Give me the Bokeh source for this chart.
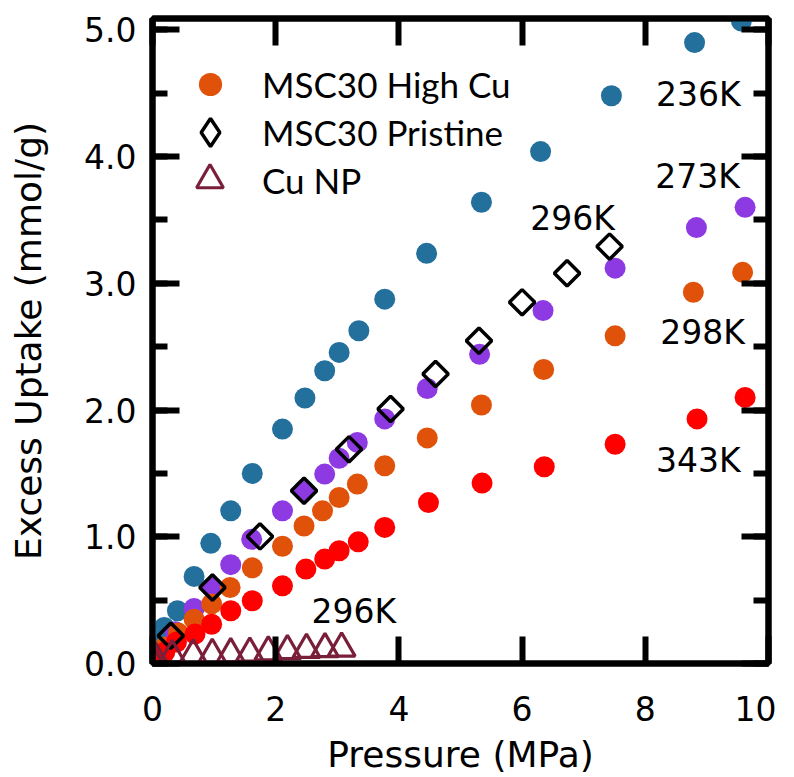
import numpy as np
from bokeh.plotting import figure
from bokeh.models import (Range1d, LinearAxis, SingleIntervalTicker, NumeralTickFormatter,
                          CustomJSTickFormatter, Legend, LegendItem, Label, ColumnDataSource)
from bokeh.embed import file_html
from bokeh.resources import INLINE

# ---------------- data ----------------
hicu_236_p = [0.01, 0.06, 0.19, 0.405, 0.675, 0.946, 1.27, 1.62, 2.11, 2.475, 2.795, 3.03, 3.35, 3.77, 4.45, 5.34, 6.30, 7.45, 8.80, 9.56]
hicu_236_u = [0.05, 0.15, 0.285, 0.416, 0.687, 0.948, 1.205, 1.50, 1.85, 2.095, 2.31, 2.455, 2.626, 2.875, 3.237, 3.64, 4.04, 4.48, 4.90, 5.07]

hicu_273_p = [0.03, 0.37, 0.675, 0.97, 1.27, 1.61, 2.11, 2.46, 2.795, 3.03, 3.325, 3.77, 4.46, 5.31, 6.34, 7.51, 8.83, 9.62]
hicu_273_u = [0.05, 0.25, 0.435, 0.60, 0.78, 0.98, 1.205, 1.363, 1.495, 1.62, 1.745, 1.93, 2.17, 2.44, 2.785, 3.12, 3.44, 3.60]

hicu_298_p = [0.03, 0.20, 0.42, 0.675, 0.96, 1.26, 1.62, 2.11, 2.46, 2.76, 3.03, 3.325, 3.77, 4.46, 5.34, 6.35, 7.51, 8.78, 9.58]
hicu_298_u = [0.03, 0.13, 0.24, 0.35, 0.47, 0.60, 0.755, 0.925, 1.085, 1.205, 1.31, 1.416, 1.56, 1.78, 2.04, 2.32, 2.586, 2.93, 3.087]

hicu_343_p = [0.02, 0.20, 0.39, 0.69, 0.96, 1.27, 1.62, 2.11, 2.49, 2.795, 3.03, 3.34, 3.77, 4.48, 5.35, 6.36, 7.51, 8.84, 9.62]
hicu_343_u = [0.00, 0.09, 0.17, 0.232, 0.31, 0.416, 0.495, 0.613, 0.745, 0.824, 0.89, 0.96, 1.074, 1.27, 1.424, 1.553, 1.73, 1.93, 2.10]

pristine_296_p = [0.297, 0.973, 1.745, 2.46, 3.19, 3.865, 4.595, 5.30, 6.00, 6.73, 7.42]
pristine_296_u = [0.219, 0.60, 1.003, 1.363, 1.69, 2.008, 2.284, 2.547, 2.85, 3.08, 3.29]

cunp_296_p = [0.01, 0.05, 0.32, 0.66, 0.97, 1.27, 1.58, 1.88, 2.19, 2.50, 2.80, 3.07]
cunp_296_u = [0.01, 0.04, 0.06, 0.065, 0.07, 0.075, 0.08, 0.09, 0.10, 0.11, 0.115, 0.12]

legend_labels = ["MSC30 High Cu", "MSC30 Pristine", "Cu NP"]
temp_labels = ["236K", "273K", "296K", "298K", "343K", "296K"]
temp_label_p = [8.86, 8.85, 6.82, 8.93, 8.86, 3.27]
temp_label_u = [4.494, 3.84, 3.51, 2.61, 1.60, 0.414]

x_label = "Pressure (MPa)"
y_label = "Excess Uptake (mmol/g)"

# ---------------- style ----------------
FONT = "DejaVu Sans"
LEG_FONT = "Lato"
C_236 = "#23709c"
C_273 = "#8e3ae3"
C_298 = "#e0520a"
C_343 = "#ff0000"
C_NP = "#7a1f3a"

p = figure(frame_width=616, frame_height=645,
           x_range=Range1d(0, 10), y_range=Range1d(0, 5.09),
           output_backend="svg", toolbar_location=None,
           min_border_left=152, min_border_top=18, min_border_right=8, min_border_bottom=112)
# an off-screen range used only to give the legend its diamond glyph
p.extra_x_ranges = {"legend_only": Range1d(start=-200, end=-190)}
p.grid.visible = False
p.outline_line_color = "black"
p.outline_line_width = 6
p.background_fill_color = "white"
p.border_fill_color = "white"

def style_axis(ax, show_labels):
    ax.axis_line_width = 6
    ax.axis_line_color = "black"
    ax.major_tick_in = 27
    ax.major_tick_out = 0
    ax.major_tick_line_width = 6
    ax.minor_tick_in = 15
    ax.minor_tick_out = 0
    ax.minor_tick_line_width = 6
    if show_labels:
        ax.major_label_text_font = FONT
        ax.major_label_text_font_size = "33px"
        ax.major_label_text_color = "black"
        ax.axis_label_text_font = FONT
        ax.axis_label_text_font_size = "36px"
        ax.axis_label_text_font_style = "normal"
        ax.axis_label_text_color = "black"
    else:
        # mirror axes: ticks only, no labels
        ax.formatter = CustomJSTickFormatter(code="return ''")
        ax.major_label_text_font_size = "1px"
        ax.axis_label = None
        ax.major_label_standoff = 0
        ax.axis_label_standoff = 0

xa = p.xaxis[0]
xa.ticker = SingleIntervalTicker(interval=2, num_minor_ticks=0)
xa.axis_label = x_label
style_axis(xa, True)
xa.major_label_standoff = 32
xa.axis_label_standoff = 10

ya = p.yaxis[0]
ya.ticker = SingleIntervalTicker(interval=1, num_minor_ticks=2)
ya.formatter = NumeralTickFormatter(format="0.0")
ya.axis_label = y_label
style_axis(ya, True)
ya.major_label_standoff = 16
ya.axis_label_standoff = 32

top = LinearAxis(ticker=SingleIntervalTicker(interval=2, num_minor_ticks=0))
style_axis(top, False)
p.add_layout(top, "above")

right = LinearAxis(ticker=SingleIntervalTicker(interval=1, num_minor_ticks=2))
style_axis(right, False)
p.add_layout(right, "right")

# ---------------- marks ----------------
p.scatter(hicu_236_p, hicu_236_u, marker="circle", size=21, fill_color=C_236, line_color=None)
p.scatter(hicu_273_p, hicu_273_u, marker="circle", size=21, fill_color=C_273, line_color=None)
r_298 = p.scatter(hicu_298_p, hicu_298_u, marker="circle", size=21, fill_color=C_298, line_color=None)
p.scatter(hicu_343_p, hicu_343_u, marker="circle", size=21, fill_color=C_343, line_color=None)
pr_src = ColumnDataSource(data=dict(p=pristine_296_p, u=pristine_296_u))
p.scatter("p", "u", source=pr_src, marker="square", angle=np.pi / 4, size=18,
          fill_color=None, line_color="black", line_width=3.5)
r_np = p.scatter(cunp_296_p, cunp_296_u, marker="triangle", size=27,
                 fill_color=None, line_color=C_NP, line_width=3.2)
# legend-only stand-in (legend glyphs ignore marker rotation): same data, mapped off-screen
r_pr_leg = p.scatter("p", "u", source=pr_src, x_range_name="legend_only",
                     marker="diamond", fill_color=None, line_color="black", line_width=3.5)

def one_legend(label, rend, loc, glyph, standoff):
    lg = Legend(items=[LegendItem(label=label, renderers=[rend])],
                location=loc, orientation="vertical",
                glyph_width=glyph, glyph_height=glyph, spacing=0,
                label_standoff=standoff, padding=0, margin=0,
                border_line_color=None, background_fill_alpha=0,
                label_text_font=LEG_FONT, label_text_font_size="35px", label_text_color="black")
    p.add_layout(lg, "center")

one_legend(legend_labels[0], r_298, (29, 550), 58, 23)
one_legend(legend_labels[1], r_pr_leg, (23, 496), 70, 17)
one_legend(legend_labels[2], r_np, (24, 450), 67, 19)

for t, lx, ly in zip(temp_labels, temp_label_p, temp_label_u):
    p.add_layout(Label(x=lx, y=ly, text=t, text_align="center", text_baseline="middle",
                       text_font=FONT, text_font_size="33px", text_color="black"))

open("out.html", "w").write(file_html(p, INLINE))
